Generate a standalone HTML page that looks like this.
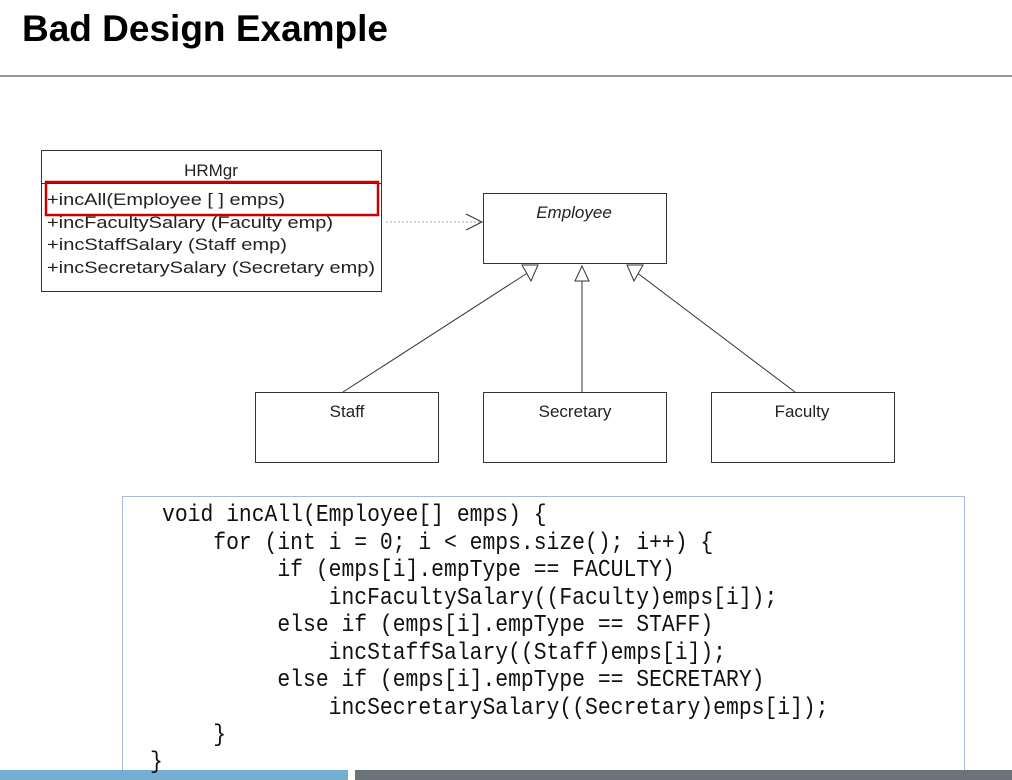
<!DOCTYPE html>
<html><head><meta charset="utf-8"><style>
html,body{margin:0;padding:0;background:#fff;width:1012px;height:780px;overflow:hidden;position:relative}
.t{position:absolute;left:22px;top:8px;font:bold 37px "Liberation Sans",sans-serif;color:#000}
.code{position:absolute;left:0;top:0;font-family:"Liberation Mono",monospace;font-size:24px;white-space:pre;transform-origin:0 0;transform:scaleX(0.89);color:#111}
</style></head><body>
<div class="t">Bad Design Example</div>
<svg width="1012" height="780" style="position:absolute;left:0;top:0" font-family="Liberation Sans, sans-serif">
<rect x="0" y="75" width="1012" height="2" fill="#999"/>
<rect x="41.5" y="150.5" width="340" height="141" fill="#fff" stroke="#333"/>
<line x1="41" y1="183.5" x2="381" y2="183.5" stroke="#333"/>
<text x="211" y="176" font-size="17" text-anchor="middle" fill="#222">HRMgr</text>
<g font-size="17" fill="#222" lengthAdjust="spacingAndGlyphs">
<text x="47" y="205" textLength="238" lengthAdjust="spacingAndGlyphs">+incAll(Employee [ ] emps)</text>
<text x="47" y="228" textLength="286" lengthAdjust="spacingAndGlyphs">+incFacultySalary (Faculty emp)</text>
<text x="47" y="250" textLength="240" lengthAdjust="spacingAndGlyphs">+incStaffSalary (Staff emp)</text>
<text x="47" y="273" textLength="328" lengthAdjust="spacingAndGlyphs">+incSecretarySalary (Secretary emp)</text>
</g>
<rect x="46" y="182" width="332" height="33" fill="none" stroke="#c00" stroke-width="2.5"/>
<line x1="386" y1="222" x2="482" y2="222" stroke="#aaa" stroke-dasharray="2,2"/>
<polyline points="466,214 482,222 466,230" fill="none" stroke="#333"/>
<rect x="483.5" y="193.5" width="183" height="70" fill="#fff" stroke="#333"/>
<text x="574" y="218" font-size="17" font-style="italic" text-anchor="middle" fill="#222">Employee</text>
<rect x="255.5" y="392.5" width="183" height="70" fill="#fff" stroke="#333"/>
<rect x="483.5" y="392.5" width="183" height="70" fill="#fff" stroke="#333"/>
<rect x="711.5" y="392.5" width="183" height="70" fill="#fff" stroke="#333"/>
<g font-size="17" text-anchor="middle" fill="#222">
<text x="347" y="417">Staff</text><text x="575" y="417">Secretary</text><text x="802" y="417">Faculty</text>
</g>
<g stroke="#333" fill="#fff">
<line x1="343" y1="392" x2="529" y2="272"/>
<line x1="582" y1="392" x2="582" y2="281"/>
<line x1="795" y1="392" x2="636" y2="272"/>
<polygon points="538,265 522,265 531,281"/>
<polygon points="582,266 575,281 589,281"/>
<polygon points="627,265 643,265 634,281"/>
</g>
<rect x="122.5" y="496.5" width="842" height="290" fill="#fff" stroke="#a8bcd8"/>
<rect x="0" y="770" width="348" height="10" fill="#74afd2"/>
<rect x="355" y="770" width="657" height="10" fill="#6b727a"/>
</svg>
<div class="code" style="left:162px;top:502px;line-height:27.5px">void incAll(Employee[] emps) {
    for (int i = 0; i &lt; emps.size(); i++) {
         if (emps[i].empType == FACULTY)
             incFacultySalary((Faculty)emps[i]);
         else if (emps[i].empType == STAFF)
             incStaffSalary((Staff)emps[i]);
         else if (emps[i].empType == SECRETARY)
             incSecretarySalary((Secretary)emps[i]);
    }</div>
<div class="code" style="left:150px;top:749px;line-height:27.5px">}</div>
</body></html>
